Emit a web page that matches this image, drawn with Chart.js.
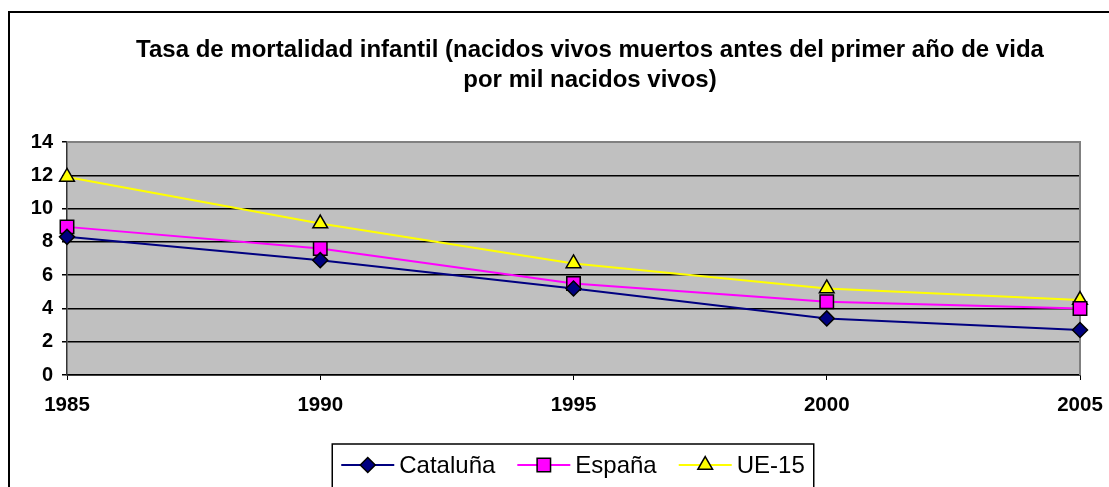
<!DOCTYPE html>
<html>
<head>
<meta charset="utf-8">
<script src="https://cdn.jsdelivr.net/npm/chart.js@4.4.1/dist/chart.umd.min.js"></script>
<style>
  html, body { margin: 0; padding: 0; background: #fff; overflow: hidden; }
  #wrap { position: relative; width: 1109px; height: 487px; }
</style>
</head>
<body>
<div id="wrap"><canvas id="chart" width="1109" height="487"></canvas></div>
<script>
const years = ['1985', '1990', '1995', '2000', '2005'];
const cataluna = [8.3, 6.9, 5.2, 3.4, 2.7];
const espana = [8.9, 7.6, 5.5, 4.4, 4.0];
const ue15 = [11.9, 9.1, 6.7, 5.2, 4.5];
const yTicks = [0, 2, 4, 6, 8, 10, 12, 14];
const titleLines = [
  'Tasa de mortalidad infantil (nacidos vivos muertos antes del primer año de vida',
  'por mil nacidos vivos)'
];

const FONT = '"Liberation Sans", Arial, sans-serif';

// own marker drawing for the legend (same shapes as the chart points)
function marker(ctx, style, r, x, y) {
  if (Chart.helpers && Chart.helpers.drawPoint) {
    Chart.helpers.drawPoint(ctx, { pointStyle: style, radius: r, rotation: 0, borderWidth: 1.5 }, x, y);
    return;
  }
  ctx.beginPath();
  if (style === 'rectRot') {
    ctx.moveTo(x, y - r); ctx.lineTo(x + r, y); ctx.lineTo(x, y + r); ctx.lineTo(x - r, y);
  } else if (style === 'rect') {
    const s = r * Math.SQRT1_2;
    ctx.rect(x - s, y - s, 2 * s, 2 * s);
  } else {
    ctx.moveTo(x, y - r);
    ctx.lineTo(x + r * 0.866, y + r / 2);
    ctx.lineTo(x - r * 0.866, y + r / 2);
  }
  ctx.closePath();
  ctx.fill();
  ctx.stroke();
}

const excelLook = {
  id: 'excelLook',
  beforeDraw(chart) {
    const { ctx, chartArea: a } = chart;
    ctx.save();
    ctx.fillStyle = '#fff';
    ctx.fillRect(0, 0, chart.width, chart.height);
    ctx.fillStyle = '#c0c0c0';
    ctx.fillRect(a.left, a.top, a.right - a.left, a.bottom - a.top);
    ctx.restore();
  },
  beforeDatasetsDraw(chart) {
    const { ctx, chartArea: a } = chart;
    ctx.save();
    ctx.strokeStyle = '#808080';
    ctx.lineWidth = 2;
    ctx.beginPath();
    ctx.moveTo(a.left, a.top);
    ctx.lineTo(a.right, a.top);
    ctx.lineTo(a.right, a.bottom);
    ctx.stroke();
    ctx.restore();
  },
  afterDraw(chart) {
    const ctx = chart.ctx;
    ctx.save();
    // outer frame (cropped on the right and bottom)
    ctx.strokeStyle = '#000';
    ctx.lineWidth = 2;
    ctx.beginPath();
    ctx.moveTo(9, chart.height);
    ctx.lineTo(9, 12);
    ctx.lineTo(chart.width, 12);
    ctx.stroke();

    // title
    ctx.fillStyle = '#000';
    ctx.font = 'bold 24px ' + FONT;
    ctx.textAlign = 'center';
    ctx.textBaseline = 'alphabetic';
    ctx.fillText(titleLines[0], 590, 57);
    ctx.fillText(titleLines[1], 590, 87);

    // legend
    ctx.font = '24px ' + FONT;
    ctx.textAlign = 'left';
    ctx.textBaseline = 'middle';
    const sets = chart.data.datasets;
    const sample = 53, gap = 5, between = 22;
    const widths = sets.map(d => ctx.measureText(d.label).width);
    let total = widths.reduce((s, w) => s + sample + gap + w, 0) + between * (sets.length - 1);
    let x = 573 - total / 2;
    const ly = 465;
    ctx.fillStyle = '#fff';
    ctx.fillRect(x - 9, 444, total + 18, 50);
    ctx.strokeStyle = '#000';
    ctx.lineWidth = 1.5;
    ctx.strokeRect(x - 9, 444, total + 18, 50);
    sets.forEach((d, i) => {
      ctx.strokeStyle = d.borderColor;
      ctx.lineWidth = 2;
      ctx.beginPath();
      ctx.moveTo(x, ly);
      ctx.lineTo(x + sample, ly);
      ctx.stroke();
      ctx.fillStyle = d.pointBackgroundColor;
      ctx.strokeStyle = '#000';
      ctx.lineWidth = 1.5;
      marker(ctx, d.pointStyle, d.pointRadius, x + sample / 2, ly);
      ctx.fillStyle = '#000';
      ctx.fillText(d.label, x + sample + gap, ly + 1);
      x += sample + gap + widths[i] + between;
    });
    ctx.restore();
  }
};

function series(label, data, color, style, radius) {
  return {
    label,
    data,
    borderColor: color,
    borderWidth: 2,
    pointStyle: style,
    pointRadius: radius,
    pointHoverRadius: radius,
    pointBackgroundColor: color,
    pointBorderColor: '#000',
    pointBorderWidth: 1.5,
    tension: 0,
    fill: false
  };
}

new Chart(document.getElementById('chart'), {
  type: 'line',
  data: {
    labels: years,
    datasets: [
      series('Cataluña', cataluna, '#000080', 'rectRot', 7.5),
      series('España', espana, '#ff00ff', 'rect', 9.5),
      series('UE-15', ue15, '#ffff00', 'triangle', 8.5)
    ]
  },
  options: {
    responsive: false,
    animation: false,
    events: [],
    layout: { padding: { top: 142, right: 29, bottom: 70, left: 0 } },
    plugins: {
      legend: { display: false },
      title: { display: false },
      tooltip: { enabled: false }
    },
    scales: {
      x: {
        type: 'category',
        offset: false,
        grid: { drawOnChartArea: false, drawTicks: true, tickLength: 5, color: '#000' },
        border: { color: '#000', width: 1.5 },
        ticks: {
          color: '#000',
          font: { family: FONT, size: 20.5, weight: 'bold' },
          padding: 13,
          maxRotation: 0,
          autoSkip: false
        },
        afterFit(s) {
          s.height = 42;
          s.paddingLeft = 0;
          s.paddingRight = 0;
        }
      },
      y: {
        min: 0,
        max: 14,
        afterBuildTicks(s) { s.ticks = yTicks.map(v => ({ value: v })); },
        grid: { color: '#000', lineWidth: 1.5, tickLength: 5 },
        border: { color: '#333', width: 1.5 },
        ticks: {
          color: '#000',
          font: { family: FONT, size: 20, weight: 'bold' },
          padding: 9
        },
        afterFit(s) { s.width = 67; }
      }
    }
  },
  plugins: [excelLook]
});
</script>
</body>
</html>
